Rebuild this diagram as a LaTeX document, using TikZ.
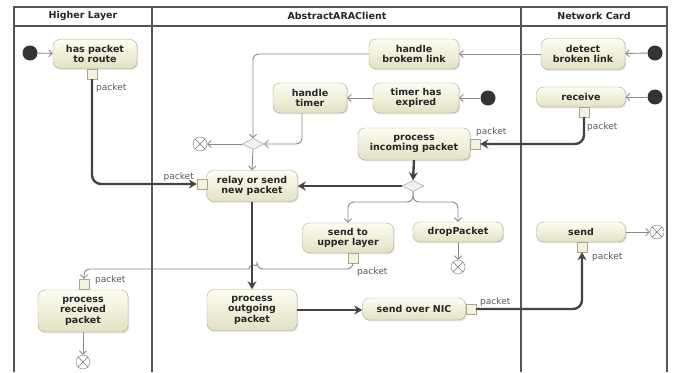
\documentclass[tikz,border=0pt]{standalone}
\usepackage{fontspec}
\usepackage{tikz}
\usetikzlibrary{arrows.meta,shapes.geometric,shadows}
\newfontfamily\umlfont{DejaVu Sans}
\definecolor{actTop}{HTML}{FDFDF2}
\definecolor{actBot}{HTML}{E3E1C3}
\definecolor{actLine}{HTML}{AAA88C}
\definecolor{laneLine}{HTML}{555555}
\definecolor{thinFlow}{HTML}{8A8A8A}
\definecolor{thickFlow}{HTML}{444444}

\begin{document}
\begin{tikzpicture}[x=1pt,y=-1pt,
  act/.style={rounded corners=7pt,draw=actLine,top color=actTop,bottom color=actBot,
    font=\umlfont\bfseries\fontsize{9.5}{10.5}\selectfont,text=black!85,align=center,inner sep=2pt,
    drop shadow={shadow xshift=1.2pt,shadow yshift=-1.2pt,opacity=0.25}},
  pin/.style={draw=actLine,fill=actTop!60!actBot,minimum size=10pt,inner sep=0pt},
  initnode/.style={circle,fill=black!80,minimum size=15pt,inner sep=0pt},
  finalnode/.style={circle,draw=black!55,fill=white,minimum size=14pt,inner sep=0pt,
    path picture={\draw[black!55] (path picture bounding box.north west)--(path picture bounding box.south east)
      (path picture bounding box.north east)--(path picture bounding box.south west);}},
  gate/.style={diamond,aspect=2,draw=black!40,fill=black!6,minimum width=22pt,minimum height=11pt,inner sep=0pt},
  flow/.style={draw=thinFlow,line width=0.9pt,rounded corners=6pt,-{Straight Barb[length=3.5pt,width=7pt]}},
  bigflow/.style={draw=thickFlow,line width=2.4pt,rounded corners=9pt,-{Stealth[length=8pt,width=9pt]}},
  pinlabel/.style={font=\umlfont\fontsize{9}{10}\selectfont,text=black!65,inner sep=0pt},
  lanehead/.style={font=\umlfont\bfseries\fontsize{9.5}{10}\selectfont,text=black!85}]
  \useasboundingbox[fill=white] (0,0) rectangle (677,372);
  \draw[laneLine,line width=1.3pt] (14,372)--(14,7)--(667,7)--(667,372);
  \draw[laneLine,line width=1.3pt] (14,26)--(667,26);
  \draw[laneLine,line width=1.3pt] (152,7)--(152,372);
  \draw[laneLine,line width=1.3pt] (521,7)--(521,372);
  \node[lanehead] (headHigher) at (83,16) {Higher Layer};
  \node[lanehead] (headClient) at (337,16) {AbstractARAClient};
  \node[lanehead] (headCard) at (594,16) {Network Card};

  \node[act,minimum width=84pt,minimum height=29pt] (hasPacket) at (95,54) {has packet\\to route};
  \node[act,minimum width=91pt,minimum height=31pt] (relay) at (252,186) {relay or send\\new packet};
  \node[act,minimum width=90pt,minimum height=30pt] (brokem) at (414,54) {handle\\brokem link};
  \node[act,minimum width=86pt,minimum height=30pt] (timerUp) at (416,98) {timer has\\expired};
  \node[act,minimum width=74pt,minimum height=30pt] (handleTimer) at (310,98) {handle\\timer};
  \node[act,minimum width=112pt,minimum height=32pt] (incoming) at (414,144) {process\\incoming packet};
  \node[act,minimum width=84pt,minimum height=31pt] (detect) at (583,54) {detect\\broken link};
  \node[act,minimum width=89pt,minimum height=20pt] (receive) at (581,97) {receive};
  \node[act,minimum width=91pt,minimum height=30pt] (sendUp) at (348,238) {send to\\upper layer};
  \node[act,minimum width=90pt,minimum height=20pt] (drop) at (458,232) {dropPacket};
  \node[act,minimum width=90pt,minimum height=42pt] (received) at (83,311) {process\\received\\packet};
  \node[act,minimum width=90pt,minimum height=41pt] (outgoing) at (252,310) {process\\outgoing\\packet};
  \node[act,minimum width=103pt,minimum height=22pt] (overNic) at (414,309) {send over NIC};
  \node[act,minimum width=89pt,minimum height=20pt] (send) at (581,232) {send};

  \node[pin] (hasPin) at (92,74) {};
  \node[pin] (relayPin) at (202,184) {};
  \node[pin] (incomingPin) at (475,144) {};
  \node[pin] (receivePin) at (584,112) {};
  \node[pin] (sendUpPin) at (353,258) {};
  \node[pin] (receivedPin) at (84,284) {};
  \node[pin] (nicPin) at (471,309) {};
  \node[pin] (sendPin) at (582,247) {};

  \node[pinlabel,anchor=west] (hasLbl) at (96,88) {packet};
  \node[pinlabel,anchor=east] (relayLbl) at (194,177) {packet};
  \node[pinlabel,anchor=west] (incomingLbl) at (476,132) {packet};
  \node[pinlabel,anchor=west] (receiveLbl) at (587,127) {packet};
  \node[pinlabel,anchor=west] (sendUpLbl) at (357,272) {packet};
  \node[pinlabel,anchor=west] (receivedLbl) at (95,280) {packet};
  \node[pinlabel,anchor=west] (nicLbl) at (480,302) {packet};
  \node[pinlabel,anchor=west] (sendLbl) at (592,257) {packet};

  \node[initnode] (startHigher) at (30,53) {};
  \node[initnode] (startDetect) at (655,53) {};
  \node[initnode] (startTimer) at (488,98) {};
  \node[initnode] (startReceive) at (655,97) {};
  \node[finalnode] (endMerge) at (200,144) {};
  \node[finalnode] (endDrop) at (458,267) {};
  \node[finalnode] (endReceived) at (83,362) {};
  \node[finalnode] (endSend) at (657,232) {};
  \node[gate] (merge) at (253,144) {};
  \node[gate] (decision) at (413,186) {};
  \coordinate (fork) at (413,202);
  \coordinate (hopR) at (257,269);
  \coordinate (hopL) at (248,269);

  \draw[flow] (startHigher) -- (hasPacket);
  \draw[flow] (startDetect) -- (detect);
  \draw[flow] (detect) -- (brokem);
  \draw[flow] (startTimer) -- (timerUp);
  \draw[flow] (timerUp) -- (handleTimer);
  \draw[flow] (startReceive) -- (receive);
  \draw[flow] (brokem.west) -| (merge.north);
  \draw[flow] ([xshift=-8pt]handleTimer.south) |- (merge.east);
  \draw[flow] (merge.west) -- (endMerge);
  \draw[flow] (merge.south) -- (relay.north);
  \draw[flow] (decision.south) -- (fork) -| (sendUp.north);
  \draw[flow] (decision.south) -- (fork) -| (drop.north);
  \draw[flow] (drop.south) -- (endDrop);
  \draw[flow] (sendUpPin.south) |- (hopR) [sharp corners] arc[start angle=0,end angle=180,radius=4pt] -- (hopL) [rounded corners=6pt] -| (receivedPin.north);
  \draw[flow] (received.south) -- (endReceived);
  \draw[flow] (send.east) -- (endSend);

  \draw[bigflow] (hasPin.south) |- (relayPin.west);
  \draw[bigflow] (receivePin.south) |- (incomingPin.east);
  \draw[bigflow] (incoming.south) -- (decision.north);
  \draw[bigflow] (decision.west) -- (relay.east);
  \draw[bigflow] (relay.south) -- (outgoing.north);
  \draw[bigflow] (outgoing.east) -- (outgoing.east -| overNic.west);
  \draw[bigflow] (nicPin.east) -| (sendPin.south);
\end{tikzpicture}
\end{document}
